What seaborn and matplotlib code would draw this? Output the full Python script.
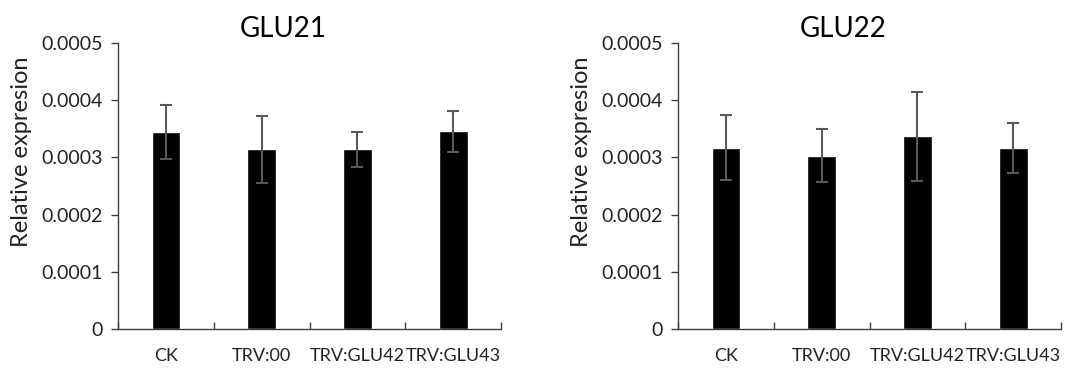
import matplotlib
matplotlib.use("Agg")
import matplotlib.pyplot as plt
import numpy as np
import pandas as pd
import seaborn as sns

groups = ["CK", "TRV:00", "TRV:GLU42", "TRV:GLU43"]

glu21_mean = [0.000345, 0.000314, 0.000314, 0.000346]
glu21_err = [0.000047, 0.000059, 0.000030, 0.000036]

glu22_mean = [0.000317, 0.000303, 0.000337, 0.000317]
glu22_err = [0.000057, 0.000046, 0.000078, 0.000044]

yticks = [0, 0.0001, 0.0002, 0.0003, 0.0004, 0.0005]
ytick_labels = ["0", "0.0001", "0.0002", "0.0003", "0.0004", "0.0005"]

sns.set_style("ticks")
plt.rcParams["font.family"] = ["Lato", "DejaVu Sans"]

fig = plt.figure(figsize=(10.86, 3.76), dpi=100)
ax1 = fig.add_axes([0.1087, 0.125, 0.3527, 0.7606])
ax2 = fig.add_axes([0.6243, 0.125, 0.3527, 0.7606])

panels = [(ax1, "GLU21", glu21_mean, glu21_err),
          (ax2, "GLU22", glu22_mean, glu22_err)]

for ax, title, means, errs in panels:
    df = pd.DataFrame({"group": groups, "value": means})
    sns.barplot(data=df, x="group", y="value", color="black", width=0.3,
                errorbar=None, ax=ax, saturation=1)
    xs = np.arange(len(groups))
    ax.errorbar(xs, means, yerr=errs, fmt="none", ecolor="#595959",
                elinewidth=1.5, capsize=4.5, capthick=1.5)
    ax.set_xlim(-0.5, len(groups) - 0.5)
    ax.set_ylim(0, 0.0005)
    ax.set_yticks(yticks)
    ax.set_yticklabels(ytick_labels)
    ax.set_xticks(xs)
    ax.set_xticklabels(groups)
    ax.set_xticks(np.arange(-0.5, len(groups), 1.0), minor=True)
    ax.tick_params(axis="x", which="major", length=0, pad=14, labelsize=13,
                   colors="#222222")
    ax.tick_params(axis="x", which="minor", direction="in", length=5,
                   width=1, color="#404040")
    ax.tick_params(axis="y", direction="out", length=5, width=1,
                   color="#404040", labelsize=14, labelcolor="#222222", pad=6)
    ax.set_xlabel("")
    ax.set_ylabel("Relative expresion", fontsize=17, color="#222222")
    ax.yaxis.set_label_coords(-0.225, 0.62)
    ax.set_title(title, fontsize=20, color="black", pad=4, x=0.43)
    for s in ["top", "right"]:
        ax.spines[s].set_visible(False)
    for s in ["left", "bottom"]:
        ax.spines[s].set_color("#404040")
        ax.spines[s].set_linewidth(1)

fig.savefig("out.png", dpi=100)
